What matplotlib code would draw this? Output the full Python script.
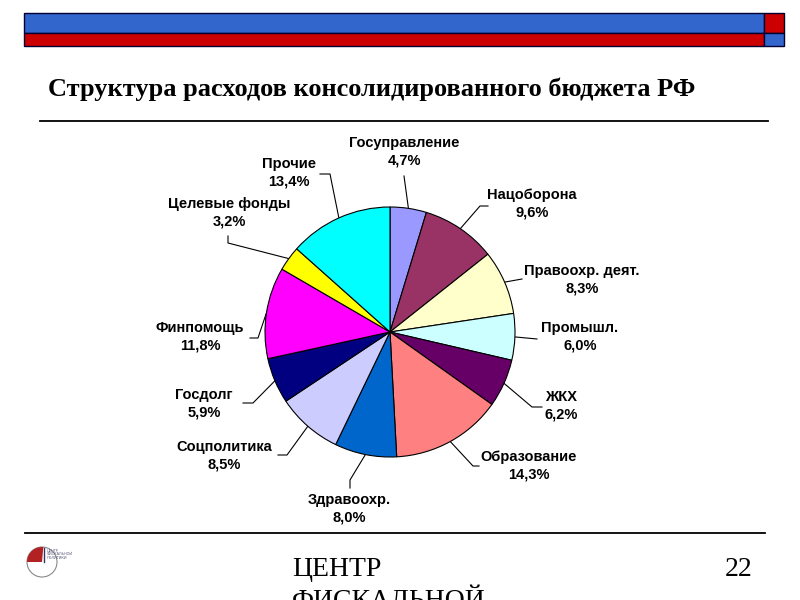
import matplotlib
matplotlib.use('Agg')
import matplotlib.pyplot as plt
from matplotlib.patches import Rectangle, Wedge, Arc
import numpy as np

# data
categories = ['Госуправление', 'Нацоборона', 'Правоохр. деят.', 'Промышл.', 'ЖКХ',
              'Образование', 'Здравоохр.', 'Соцполитика', 'Госдолг', 'Финпомощь',
              'Целевые фонды', 'Прочие']
shares = [4.7, 9.6, 8.3, 6.0, 6.2, 14.3, 8.0, 8.5, 5.9, 11.8, 3.2, 13.4]
colors = ['#9999FF', '#993366', '#FFFFCC', '#CCFFFF', '#660066', '#FF8080',
          '#0066CC', '#CCCCFF', '#000080', '#FF00FF', '#FFFF00', '#00FFFF']
title = 'Структура расходов консолидированного бюджета РФ'

# label layout in pixels (top-left origin): text centre, elbow, end of leader
label_xy = [(404, 152), (532, 204), (582, 280), (580, 337), (561, 406), (529, 466),
            (349, 509), (224, 456), (204, 404), (200, 337), (229, 213), (289, 173)]
elbow_xy = [(404, 176), (480, 206), (522, 279), (537, 339), (532, 407), (473, 466),
            (350, 480), (287, 455), (253, 403), (258, 338), (228, 243), (330, 174)]
end_xy = [(404, 176), (488, 206), (522, 279), (537, 339), (542, 407), (479, 466),
          (350, 488), (278, 455), (243, 403), (250, 338), (228, 236), (320, 174)]

W, H = 800, 600
fig = plt.figure(figsize=(8, 6), dpi=100)
fig.patch.set_facecolor('white')

bg = fig.add_axes([0, 0, 1, 1])
bg.set_xlim(0, W)
bg.set_ylim(H, 0)
bg.axis('off')

# header bars
edge = '#000033'
bg.add_patch(Rectangle((24, 13), 740, 20, facecolor='#3366CC', edgecolor=edge, lw=1))
bg.add_patch(Rectangle((24, 33), 740, 13, facecolor='#CC0000', edgecolor=edge, lw=1))
bg.add_patch(Rectangle((764, 13), 20, 20, facecolor='#CC0000', edgecolor=edge, lw=1))
bg.add_patch(Rectangle((764, 33), 20, 13, facecolor='#3366CC', edgecolor=edge, lw=1))

# title and rules
bg.text(48, 89, title, fontsize=19, fontweight='bold', family='Liberation Serif',
        ha='left', va='center')
bg.plot([40, 768], [121, 121], color='black', lw=1.3)
bg.plot([25, 765], [533, 533], color='black', lw=1.3)

# pie
cx, cy, r = 390, 332, 125
pax = fig.add_axes([(cx - r) / W, (H - cy - r) / H, 2 * r / W, 2 * r / H])
wedges, _ = pax.pie(shares, colors=colors, startangle=90, counterclock=False,
                    wedgeprops=dict(edgecolor='black', linewidth=0.8))
pax.set_xlim(-1, 1)
pax.set_ylim(-1, 1)
pax.set_aspect('equal')

to_bg = pax.transData + bg.transData.inverted()
for w, name, val, (tx, ty), el, en in zip(wedges, categories, shares, label_xy, elbow_xy, end_xy):
    mid = np.deg2rad((w.theta1 + w.theta2) / 2)
    ex, ey = to_bg.transform((np.cos(mid), np.sin(mid)))
    bg.plot([ex, el[0], en[0]], [ey, el[1], en[1]], color='black', lw=0.8)
    pct = f'{val:.1f}%'.replace('.', ',')
    bg.text(tx, ty, name + '\n' + pct, fontsize=10.5, fontweight='bold',
            family='Liberation Sans', ha='center', va='center', linespacing=1.3)

# footer
bg.text(292, 569, 'ЦЕНТР', fontsize=20, family='Liberation Serif', ha='left', va='center')
bg.text(292, 601, 'ФИСКАЛЬНОЙ', fontsize=20, family='Liberation Serif', ha='left', va='center')
bg.text(752, 569, '22', fontsize=20, family='Liberation Serif', ha='right', va='center')

# small logo
bg.add_patch(Arc((42, 562), 30, 30, angle=0, theta1=0, theta2=360, color='#888888', lw=0.8))
bg.add_patch(Wedge((42, 562), 15, 180, 275, facecolor='#B22222', edgecolor='none'))
bg.plot([44, 44], [548, 562], color='#333366', lw=1)
for i, s in enumerate(['ЦЕНТР', 'ФИСКАЛЬНОЙ', 'ПОЛИТИКИ']):
    bg.text(47, 550 + i * 4, s, fontsize=2.5, color='#555577', ha='left', va='center')

fig.savefig('out.png', dpi=100)
